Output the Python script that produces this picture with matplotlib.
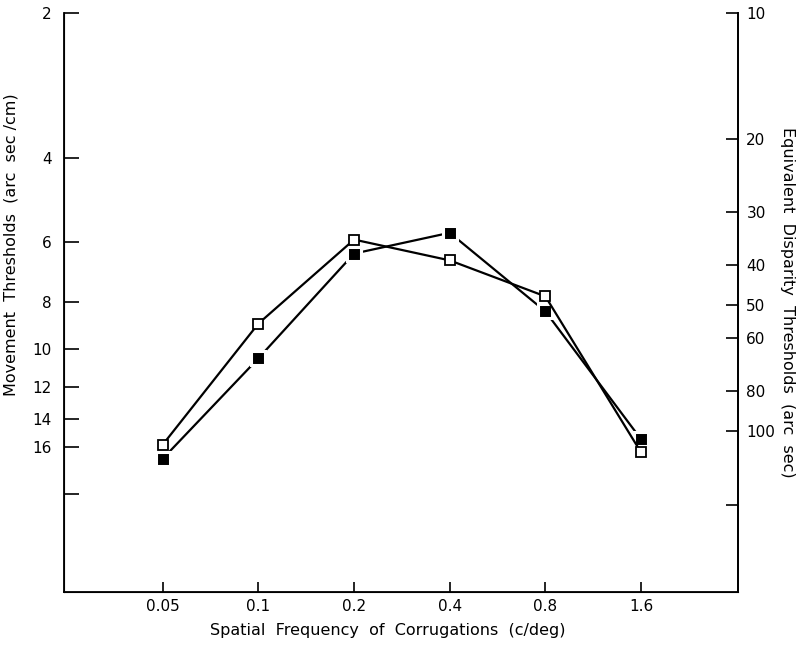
import matplotlib
matplotlib.use('Agg')
import matplotlib.pyplot as plt
from matplotlib.ticker import FixedLocator, FixedFormatter, NullLocator

# spatial frequency (c/deg)
freqs = [0.05, 0.1, 0.2, 0.4, 0.8, 1.6]
# movement thresholds (arc sec/cm)
open_vals = [15.8, 8.85, 5.92, 6.54, 7.77, 16.4]
filled_vals = [16.9, 10.45, 6.33, 5.73, 8.35, 15.4]

left_ticks = [2, 4, 6, 8, 10, 12, 14, 16, 20]
left_labels = ['2', '4', '6', '8', '10', '12', '14', '16', '']
right_ticks = [10, 20, 30, 40, 50, 60, 80, 100, 150]
right_labels = ['10', '20', '30', '40', '50', '60', '80', '100', '']
x_ticks = [0.05, 0.1, 0.2, 0.4, 0.8, 1.6]
x_labels = ['0.05', '0.1', '0.2', '0.4', '0.8', '1.6']

plt.rcParams['font.family'] = ['DejaVu Sans']

fig = plt.figure(figsize=(7.98, 6.47), dpi=100)
ax = fig.add_axes([0.0802, 0.085, 0.8446, 0.895])

# filled series: line first, then markers with white rim (gives the small gaps)
ax.plot(freqs, filled_vals, color='black', lw=1.6, zorder=2)
ax.plot(freqs, filled_vals, ls='none', marker='s', ms=9.5, mfc='black',
        mec='white', mew=2.2, zorder=3)
# open series on top
ax.plot(freqs, open_vals, color='black', lw=1.6, marker='s', ms=7,
        mfc='white', mec='black', mew=1.3, zorder=4)

ax.set_xscale('log')
ax.set_yscale('log')
ax.set_xlim(0.02444, 3.23)
ax.set_ylim(32, 2)

ax.xaxis.set_major_locator(FixedLocator(x_ticks))
ax.xaxis.set_major_formatter(FixedFormatter(x_labels))
ax.xaxis.set_minor_locator(NullLocator())
ax.yaxis.set_major_locator(FixedLocator(left_ticks))
ax.yaxis.set_major_formatter(FixedFormatter(left_labels))
ax.yaxis.set_minor_locator(NullLocator())

ax.spines['top'].set_visible(False)
for s in ['left', 'bottom', 'right']:
    ax.spines[s].set_linewidth(1.3)

ax.tick_params(axis='x', direction='in', length=7, width=1.2, labelsize=11, pad=5)
ax.tick_params(axis='y', direction='in', length=11, width=1.2, labelsize=11, pad=9)

ax2 = ax.twinx()
ax2.set_yscale('log')
ax2.set_ylim(242.5, 10)
ax2.yaxis.set_major_locator(FixedLocator(right_ticks))
ax2.yaxis.set_major_formatter(FixedFormatter(right_labels))
ax2.yaxis.set_minor_locator(NullLocator())
ax2.spines['top'].set_visible(False)
ax2.spines['right'].set_linewidth(1.3)
ax2.tick_params(axis='y', direction='in', length=9, width=1.2, labelsize=11, pad=6)

ax.set_xlabel('Spatial  Frequency  of  Corrugations  (c/deg)', fontsize=11.5)
ax.xaxis.set_label_coords(0.48, -0.054)
ax.set_ylabel('Movement  Thresholds  (arc  sec /cm)', fontsize=11.5)
ax.yaxis.set_label_coords(-0.068, 0.60)
ax2.set_ylabel('Equivalent  Disparity  Thresholds  (arc  sec)', fontsize=11.5,
               rotation=-90, labelpad=14)

fig.savefig('out.png', dpi=100)
